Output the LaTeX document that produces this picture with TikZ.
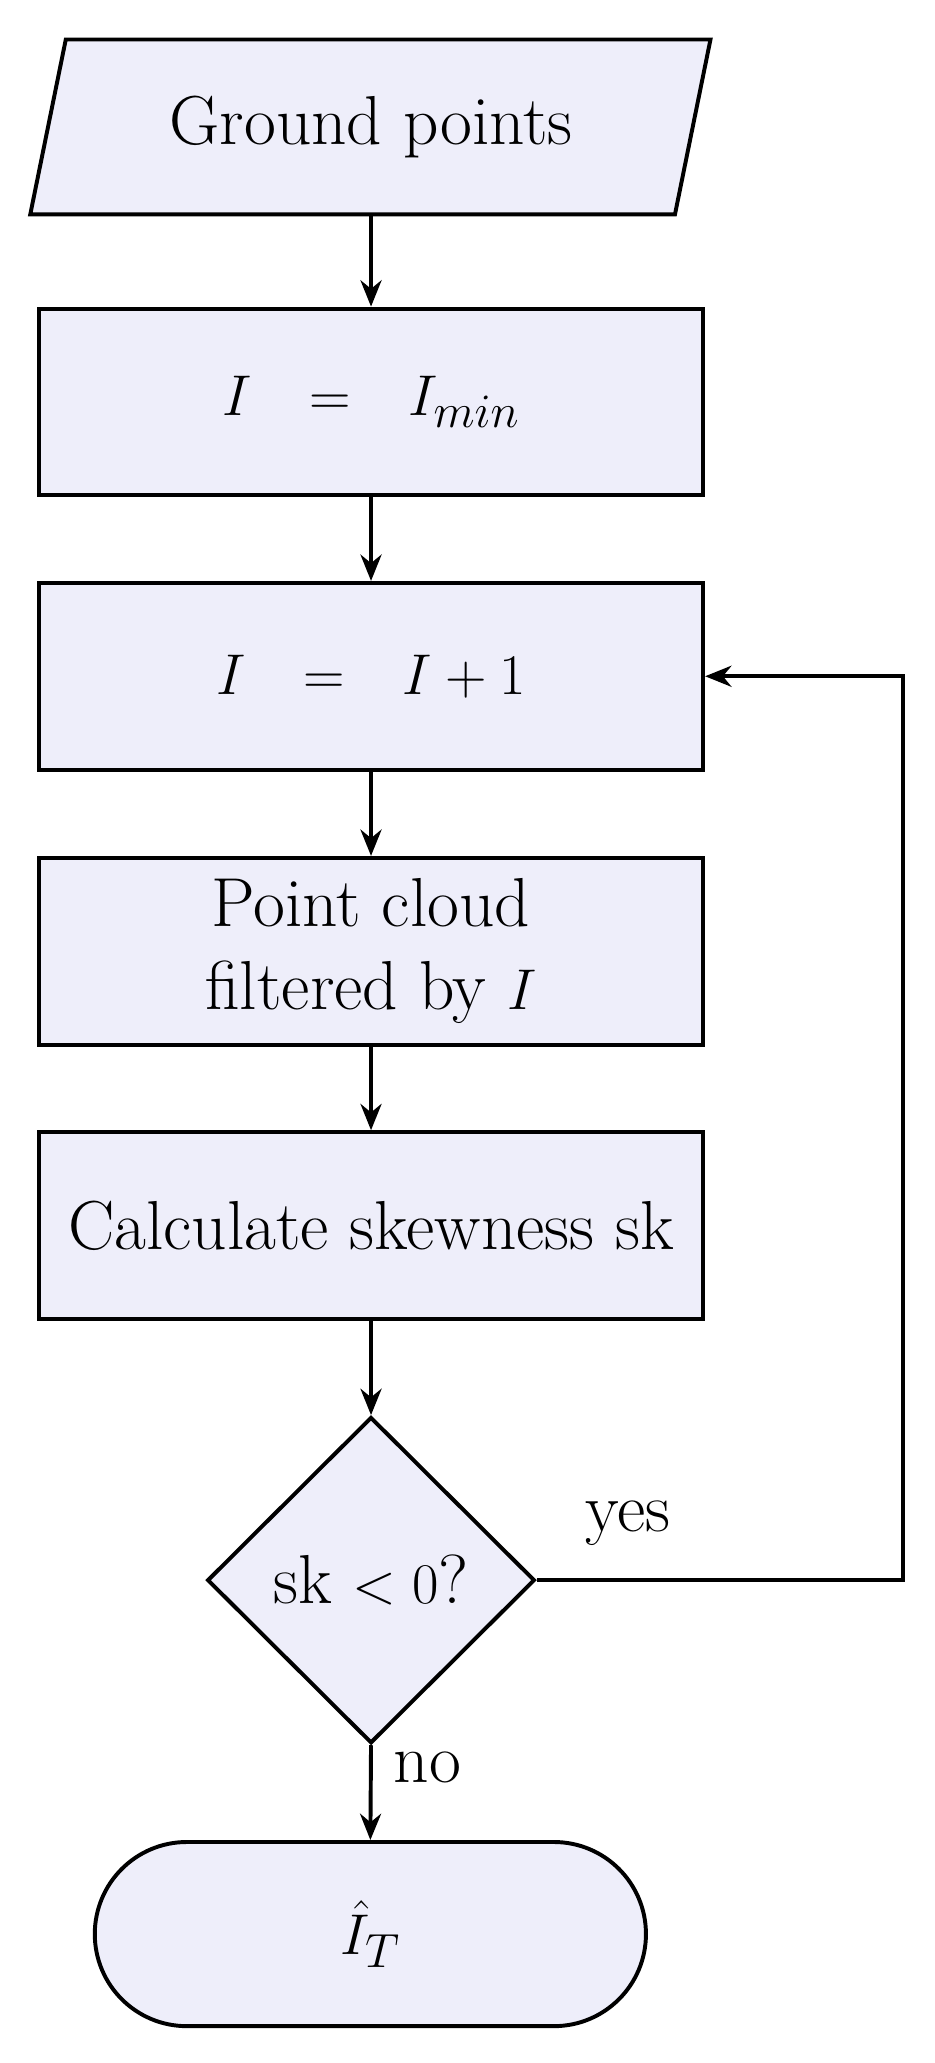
\documentclass[tikz,border=0pt]{standalone}
\usetikzlibrary{shapes.geometric,arrows.meta}
\definecolor{boxfill}{HTML}{EEEEFA}
\begin{document}
\begin{tikzpicture}[x=0.02cm,y=-0.02cm,
  every node/.style={font=\fontsize{30}{36}\selectfont},
  procbox/.style={draw,fill=boxfill,line width=1.7pt,minimum width=10.1cm,minimum height=2.84cm,inner sep=0pt,align=center},
  arr/.style={line width=1.7pt,-{Stealth[length=0.4cm,width=0.32cm]}}]
\useasboundingbox (0,0) rectangle (710,1568);
\draw[fill=boxfill,line width=1.7pt] (50,30) -- (540,30) -- (513,163) -- (23,163) -- cycle;
\node[minimum width=9.8cm,minimum height=2.66cm,inner sep=0pt] (in) at (282,96.5) {Ground points};
\node[procbox] (b1) at (282,305.5) {$I\ \ =\ \ I_{min}$};
\node[procbox] (b2) at (282,514) {$I\ \ =\ \ I+1$};
\node[procbox] (b3) at (282,723) {Point cloud\\filtered by $I$};
\node[procbox] (b4) at (282,931.5) {Calculate skewness sk};
\node[diamond,draw,fill=boxfill,line width=1.7pt,minimum width=4.98cm,minimum height=4.96cm,inner sep=0pt] (d) at (282,1201) {sk $<0$?};
\node[draw,fill=boxfill,line width=1.7pt,minimum width=8.38cm,minimum height=2.8cm,rounded corners=1.4cm] (t) at (281.5,1470) {$\hat{I}_T$};
\coordinate (c1) at (686,1201);
\coordinate (c2) at (686,514);
\draw[arr] (in.south) -- (b1.north);
\draw[arr] (b1) -- (b2);
\draw[arr] (b2) -- (b3);
\draw[arr] (b3) -- (b4);
\draw[arr] (b4) -- (d.north);
\draw[arr] (d.south) -- (t.north);
\draw[arr] (d.east) -- (c1) -- (c2) -- (b2.east);
\node (yes) at (477,1158) {yes};
\node (no) at (325,1343) {no};
\end{tikzpicture}
\end{document}
